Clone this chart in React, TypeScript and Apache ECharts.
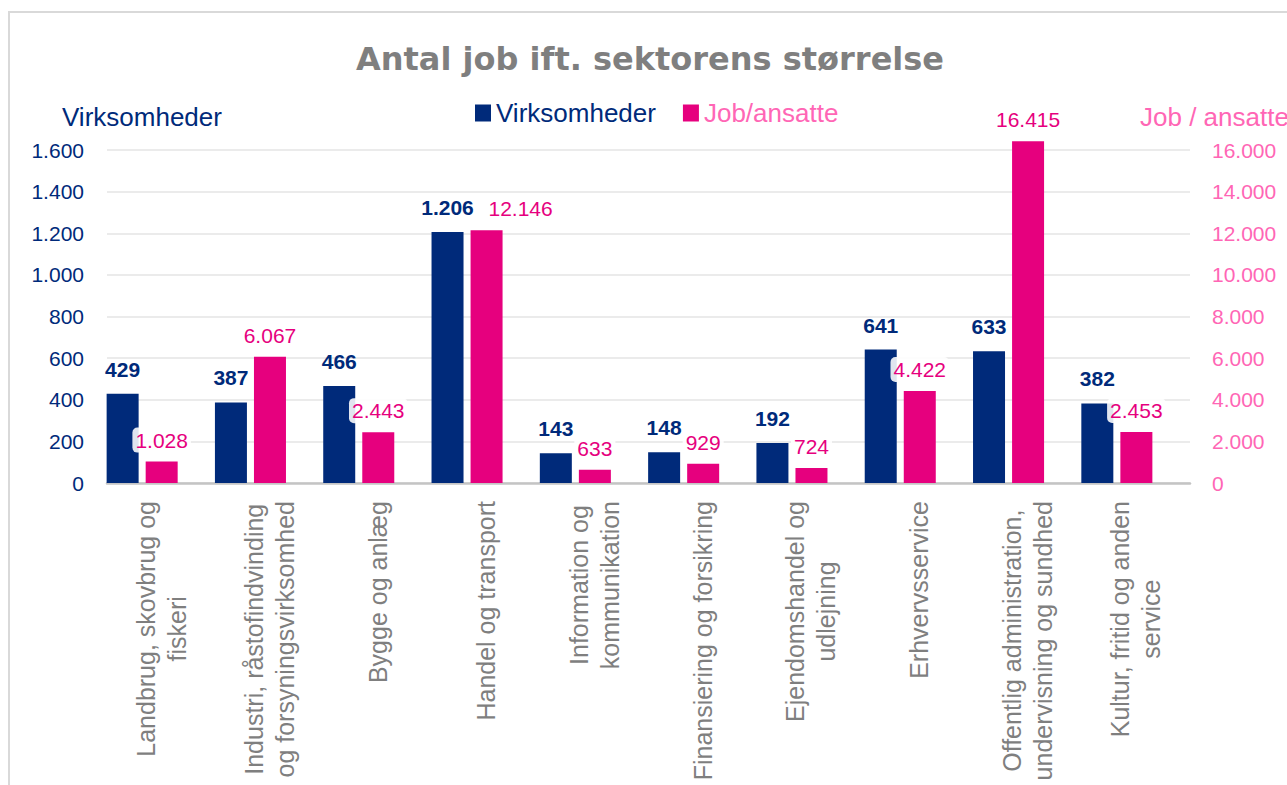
import React, { useEffect, useRef } from "react";
import * as echarts from "echarts";

const categories = [
  "Landbrug, skovbrug og\nfiskeri",
  "Industri, råstofindvinding\nog forsyningsvirksomhed",
  "Bygge og anlæg",
  "Handel og transport",
  "Information og\nkommunikation",
  "Finansiering og forsikring",
  "Ejendomshandel og\nudlejning",
  "Erhvervsservice",
  "Offentlig administration,\nundervisning og sundhed",
  "Kultur, fritid og anden\nservice",
];
const virksomheder = [429, 387, 466, 1206, 143, 148, 192, 641, 633, 382];
const jobAnsatte = [1028, 6067, 2443, 12146, 633, 929, 724, 4422, 16415, 2453];

const TITLE = "Antal job ift. sektorens størrelse";
const LEFT_NAME = "Virksomheder";
const RIGHT_NAME = "Job / ansatte";
const SERIES_A = "Virksomheder";
const SERIES_B = "Job/ansatte";

const NAVY = "#002A7A";
const PINK = "#E6007E";
const LIGHT_PINK = "#FF66B5";
const GRAY = "#7F7F7F";
const FONT = "'Liberation Sans', Arial, sans-serif";

const fmt = (v: number) => String(v).replace(/\B(?=(\d{3})+(?!\d))/g, ".");

export default function App() {
  const ref = useRef<HTMLDivElement>(null);
  useEffect(() => {
    if (!ref.current) return;
    const chart = echarts.init(ref.current, undefined, { renderer: "svg" });
    const gridTop = 150;
    const gridH = 333;
    // The label of the tallest navy/pink neighbour pair is nudged right to avoid overlap (as in the source)
    const jobData = jobAnsatte.map((v, i) =>
      i === 3 ? { value: v, label: { offset: [34, 0] } } : v
    );
    chart.setOption({
      animation: false,
      backgroundColor: "#fff",
      textStyle: { fontFamily: FONT },
      graphic: [
        {
          type: "rect",
          shape: { x: 9, y: 12, width: 1400, height: 900 },
          style: { fill: "none", stroke: "#D9D9D9", lineWidth: 2 },
          silent: true,
        },
        {
          type: "text",
          x: 650,
          y: 59,
          style: {
            text: TITLE,
            font: "bold 32px 'DejaVu Sans', sans-serif",
            fill: GRAY,
            textAlign: "center",
            textVerticalAlign: "middle",
          },
        },
        {
          type: "text",
          x: 62,
          y: 117,
          style: {
            text: LEFT_NAME,
            font: `26px ${FONT}`,
            fill: NAVY,
            textAlign: "left",
            textVerticalAlign: "middle",
          },
        },
        {
          type: "text",
          x: 1140,
          y: 117,
          style: {
            text: RIGHT_NAME,
            font: `26px ${FONT}`,
            fill: LIGHT_PINK,
            textAlign: "left",
            textVerticalAlign: "middle",
          },
        },
      ],
      legend: {
        left: 470,
        top: 95,
        itemWidth: 16,
        itemHeight: 17,
        itemGap: 27,
        icon: "rect",
        textStyle: { fontSize: 26, fontFamily: FONT },
        data: [
          { name: SERIES_A, textStyle: { color: NAVY } },
          { name: SERIES_B, textStyle: { color: LIGHT_PINK } },
        ],
      },
      grid: [
        { left: 88, width: 1083, top: gridTop, height: gridH },
        { left: 107, width: 1083, top: gridTop, height: gridH },
      ],
      xAxis: [
        {
          gridIndex: 0,
          type: "category",
          data: categories,
          show: false,
        },
        {
          gridIndex: 1,
          type: "category",
          data: categories,
          axisLine: { show: true, lineStyle: { color: "#C4C4C4", width: 2.5 } },
          axisTick: { show: false },
          axisLabel: {
            interval: 0,
            rotate: 90,
            margin: 18,
            color: GRAY,
            fontSize: 25,
            fontFamily: FONT,
            lineHeight: 31,
            formatter: (v: string) =>
              v
                .split("\n")
                .map((l) => `{c|${l}}`)
                .join("\n"),
            rich: {
              c: {
                align: "center",
                color: GRAY,
                fontSize: 25,
                fontFamily: FONT,
                lineHeight: 31,
              },
            },
          },
        },
      ],
      yAxis: [
        { gridIndex: 0, type: "value", min: 0, max: 1600, interval: 200, show: false },
        { gridIndex: 0, type: "value", min: 0, max: 16000, interval: 2000, show: false },
        {
          gridIndex: 1,
          type: "value",
          position: "left",
          min: 0,
          max: 1600,
          interval: 200,
          axisLine: { show: false },
          axisTick: { show: false },
          splitLine: { show: true, lineStyle: { color: "#EBEBEB", width: 2 } },
          axisLabel: {
            color: NAVY,
            fontSize: 21,
            fontFamily: FONT,
            margin: 23,
            formatter: (v: number) => fmt(v),
          },
        },
        {
          gridIndex: 1,
          type: "value",
          position: "right",
          min: 0,
          max: 16000,
          interval: 2000,
          axisLine: { show: false },
          axisTick: { show: false },
          splitLine: { show: false },
          axisLabel: {
            color: LIGHT_PINK,
            fontSize: 21,
            fontFamily: FONT,
            margin: 22,
            formatter: (v: number) => fmt(v),
          },
        },
      ],
      series: [
        {
          name: SERIES_A,
          type: "bar",
          xAxisIndex: 0,
          yAxisIndex: 0,
          data: virksomheder,
          barWidth: 32,
          barGap: "22%",
          clip: false,
          itemStyle: { color: NAVY },
          label: {
            show: true,
            position: "top",
            distance: 14,
            color: NAVY,
            fontWeight: "bold",
            fontSize: 21,
            fontFamily: FONT,
            formatter: (p: any) => fmt(p.value),
          },
        },
        {
          name: SERIES_B,
          type: "bar",
          xAxisIndex: 0,
          yAxisIndex: 1,
          data: jobData,
          barWidth: 32,
          barGap: "22%",
          clip: false,
          itemStyle: { color: PINK },
          label: {
            show: true,
            position: "top",
            distance: 9,
            color: PINK,
            fontSize: 21,
            fontFamily: FONT,
            backgroundColor: "rgba(255,255,255,0.88)",
            borderRadius: 5,
            padding: [2, 3],
            formatter: (p: any) => fmt(p.value),
          },
        },
      ],
    });
    return () => chart.dispose();
  }, []);
  return (
    <div
      ref={ref}
      style={{ position: "absolute", left: 0, top: 0, width: 1287, height: 785 }}
    />
  );
}
